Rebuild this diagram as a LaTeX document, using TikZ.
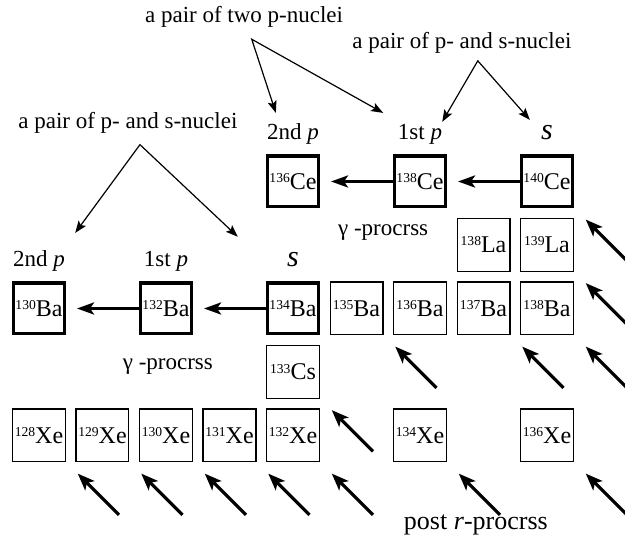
\documentclass[tikz,border=0pt]{standalone}
\usepackage{fontspec}
\setmainfont{Liberation Serif}
\usetikzlibrary{arrows.meta, positioning}

\newcommand{\nuc}[2]{\raisebox{3.4pt}{\fontsize{6.8}{7}\selectfont #1}#2}

\begin{document}
\begin{tikzpicture}[x=31.75pt, y=31.75pt,
  nuclide/.style={draw, line width=0.7pt, minimum size=26.3pt, inner sep=0pt,
                  font=\fontsize{12}{14}\selectfont},
  pnuc/.style={nuclide, line width=1.6pt, minimum size=25.4pt},
  plabel/.style={anchor=base, font=\fontsize{11.5}{14}\selectfont},
  slabel/.style={anchor=base, font=\fontsize{15}{16}\selectfont\itshape},
  note/.style={font=\fontsize{11.5}{14}\selectfont},
  pointer/.style={{Stealth[length=6pt,width=4.5pt,inset=1.2pt]}-{Stealth[length=6pt,width=4.5pt,inset=1.2pt]},
                  line width=0.6pt},
  gammaarrow/.style={-{Stealth[length=8.5pt,width=6pt,inset=2pt]}, line width=1.6pt},
  decay/.style={-{Stealth[length=8.5pt,width=6.5pt,inset=2pt]}, line width=1.6pt}
]
  \clip (-0.614,-1.724) rectangle (9.228,6.858);

  % Xe row
  \node[nuclide] (xe128) at (0,0) {\nuc{128}{Xe}};
  \node[nuclide] (xe129) at (1,0) {\nuc{129}{Xe}};
  \node[nuclide] (xe130) at (2,0) {\nuc{130}{Xe}};
  \node[nuclide] (xe131) at (3,0) {\nuc{131}{Xe}};
  \node[nuclide] (xe132) at (4,0) {\nuc{132}{Xe}};
  \node[nuclide] (xe134) at (6,0) {\nuc{134}{Xe}};
  \node[nuclide] (xe136) at (8,0) {\nuc{136}{Xe}};

  % Cs
  \node[nuclide] (cs133) at (4,1) {\nuc{133}{Cs}};

  % Ba row
  \node[pnuc] (ba130) at (0,2) {\nuc{130}{Ba}};
  \node[pnuc] (ba132) at (2,2) {\nuc{132}{Ba}};
  \node[pnuc] (ba134) at (4,2) {\nuc{134}{Ba}};
  \node[nuclide] (ba135) at (5,2) {\nuc{135}{Ba}};
  \node[nuclide] (ba136) at (6,2) {\nuc{136}{Ba}};
  \node[nuclide] (ba137) at (7,2) {\nuc{137}{Ba}};
  \node[nuclide] (ba138) at (8,2) {\nuc{138}{Ba}};

  % La row
  \node[nuclide] (la138) at (7,3) {\nuc{138}{La}};
  \node[nuclide] (la139) at (8,3) {\nuc{139}{La}};

  % Ce row
  \node[pnuc] (ce136) at (4,4) {\nuc{136}{Ce}};
  \node[pnuc] (ce138) at (6,4) {\nuc{138}{Ce}};
  \node[pnuc] (ce140) at (8,4) {\nuc{140}{Ce}};

  % p / s labels
  \node[plabel] (lba130) at ([yshift=7.5pt]ba130.north) {2nd \textit{p}};
  \node[plabel] (lba132) at ([yshift=7.5pt]ba132.north) {1st \textit{p}};
  \node[slabel] (lba134) at ([yshift=7.5pt]ba134.north) {s};
  \node[plabel] (lce136) at ([yshift=7.5pt]ce136.north) {2nd \textit{p}};
  \node[plabel] (lce138) at ([yshift=7.5pt]ce138.north) {1st \textit{p}};
  \node[slabel] (lce140) at ([yshift=7.5pt]ce140.north) {s};

  % gamma-process
  \draw[gammaarrow] (ce138.west) -- ([xshift=5.5pt]ce136.east);
  \draw[gammaarrow] (ce140.west) -- ([xshift=5.5pt]ce138.east);
  \draw[gammaarrow] (ba132.west) -- ([xshift=5.5pt]ba130.east);
  \draw[gammaarrow] (ba134.west) -- ([xshift=5.5pt]ba132.east);
  \node[note] (gup) at (5.42,3.20) {γ -procrss};
  \node[note] (glow) at (2.03,1.09) {γ -procrss};

  % pairs
  \node[note] (twop) at (3.23,6.59) {a pair of two p-nuclei};
  \coordinate (twoptop) at (3.35,6.24);
  \coordinate (twopa) at (3.73,5.08);
  \coordinate (twopb) at (5.42,5.08);
  \draw[pointer] (twopa) -- (twoptop) -- (twopb);

  \node[note] (psce) at (6.66,6.18) {a pair of p- and s-nuclei};
  \coordinate (pscetop) at (6.91,5.90);
  \coordinate (pscea) at (6.35,4.94);
  \coordinate (psceb) at (7.73,4.97);
  \draw[pointer] (pscea) -- (pscetop) -- (psceb);

  \node[note] (psba) at (1.40,4.92) {a pair of p- and s-nuclei};
  \coordinate (psbatop) at (1.59,4.58);
  \coordinate (psbaa) at (0.57,3.19);
  \coordinate (psbab) at (3.13,3.13);
  \draw[pointer] (psbaa) -- (psbatop) -- (psbab);

  % post r-process decays
  \coordinate (d1) at (1.26,-1.25);
  \coordinate (d2) at (2.26,-1.25);
  \coordinate (d3) at (3.26,-1.25);
  \coordinate (d4) at (4.26,-1.25);
  \coordinate (d5) at (5.26,-1.25);
  \coordinate (d7) at (7.26,-1.25);
  \coordinate (d9) at (9.26,-1.25);
  \coordinate (e5) at (5.26,-0.25);
  \coordinate (f6) at (6.26,0.75);
  \coordinate (f8) at (8.26,0.75);
  \coordinate (f9) at (9.26,0.75);
  \coordinate (g9) at (9.26,1.75);
  \coordinate (h9) at (9.26,2.75);
  \draw[decay] (d1) -- ++(-0.65,0.65);
  \draw[decay] (d2) -- ++(-0.65,0.65);
  \draw[decay] (d3) -- ++(-0.65,0.65);
  \draw[decay] (d4) -- ++(-0.65,0.65);
  \draw[decay] (d5) -- ++(-0.65,0.65);
  \draw[decay] (d7) -- ++(-0.65,0.65);
  \draw[decay] (d9) -- ++(-0.65,0.65);
  \draw[decay] (e5) -- ++(-0.65,0.65);
  \draw[decay] (f6) -- ++(-0.65,0.65);
  \draw[decay] (f8) -- ++(-0.65,0.65);
  \draw[decay] (f9) -- ++(-0.65,0.65);
  \draw[decay] (g9) -- ++(-0.65,0.65);
  \draw[decay] (h9) -- ++(-0.65,0.65);

  \node[note, font=\fontsize{13}{15}\selectfont] (postr) at (6.88,-1.41) {post \textit{r}-procrss};
\end{tikzpicture}
\end{document}
